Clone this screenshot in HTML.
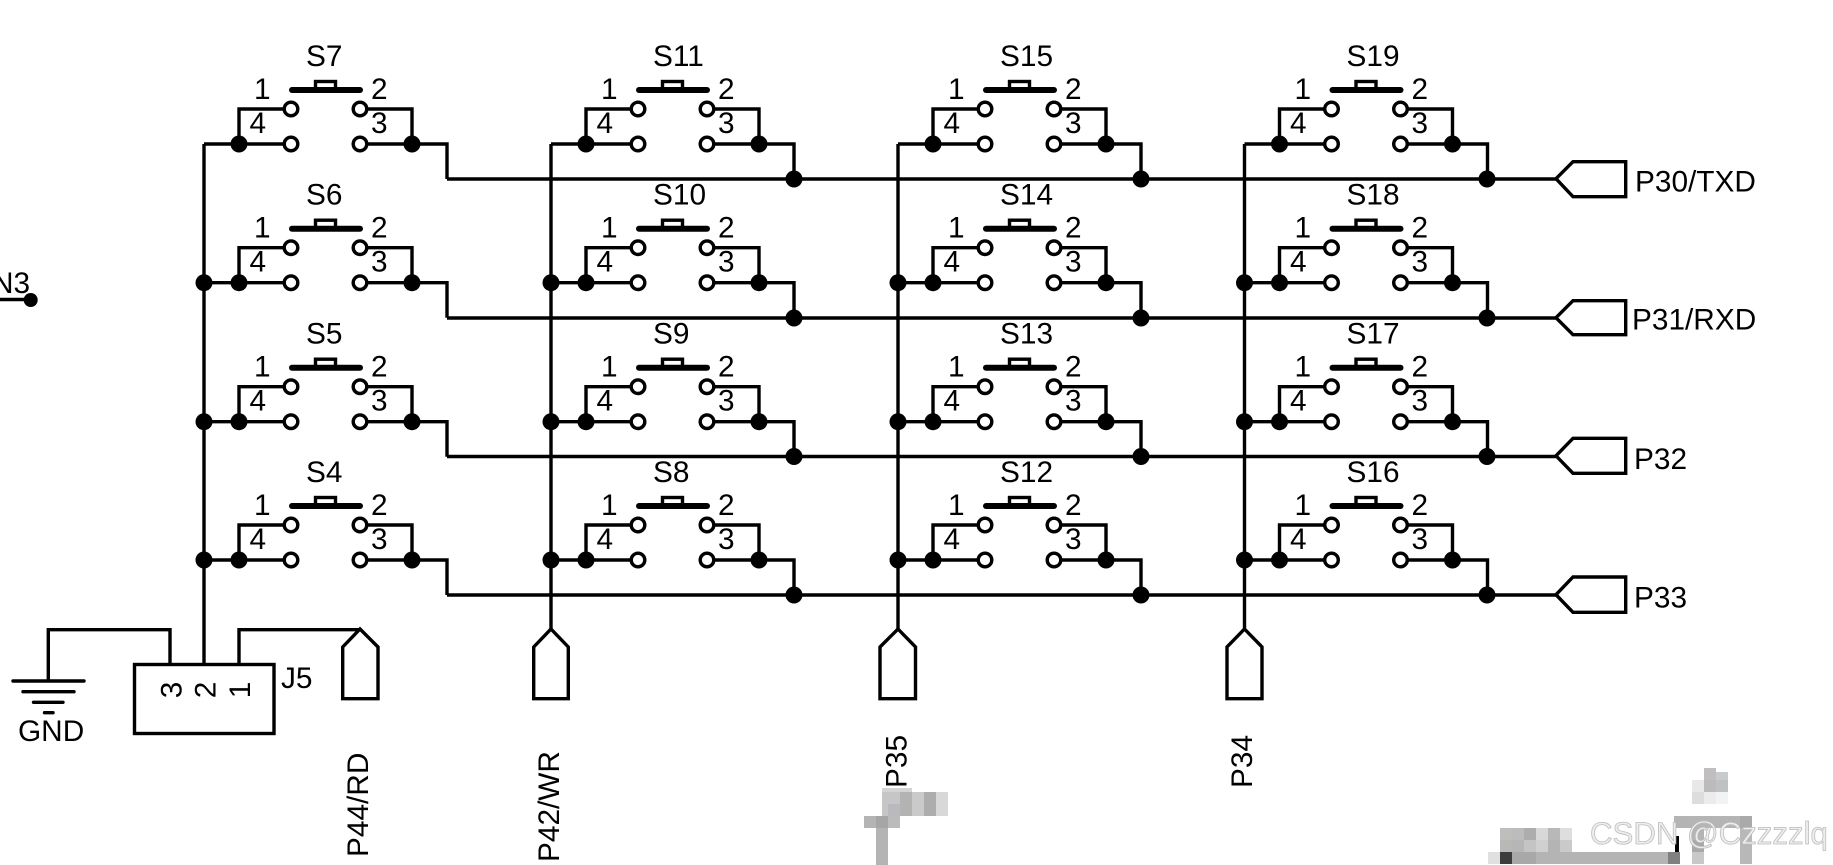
<!DOCTYPE html>
<html lang="en">
<head>
<meta charset="utf-8">
<title>Key matrix schematic</title>
<style>
html,body{margin:0;padding:0;background:#fff;width:1833px;height:865px;overflow:hidden}
svg{display:block}
text{font-family:"Liberation Sans",Arial,sans-serif;font-size:29.8px;fill:#000}
.w{fill:none;stroke:#000;stroke-width:3.4;stroke-linejoin:miter}
.p{fill:#fff;stroke:#000;stroke-width:3.4;stroke-linejoin:miter}
</style>
</head>
<body>
<svg width="1833" height="865" viewBox="0 0 1833 865" xmlns="http://www.w3.org/2000/svg">
<defs>
<g id="sw">
<path class="w" d="M204 0H284M239 0V-35H284M367 -35H412V0M367 0H447V35"/>
<circle cx="239" cy="0" r="8.5"/><circle cx="412" cy="0" r="8.5"/>
<g fill="#fff" stroke="#000" stroke-width="3.4">
<circle cx="291" cy="-35" r="6.8"/><circle cx="360" cy="-35" r="6.8"/>
<circle cx="291" cy="0" r="6.8"/><circle cx="360" cy="0" r="6.8"/>
<rect x="315.5" y="-62.5" width="20" height="8.5"/>
</g>
<path d="M292 -54H360" stroke="#000" stroke-width="6" stroke-linecap="round"/>
</g>
</defs>

<!-- nets -->
<path class="w" d="M447 179H1556M447 318H1556M447 456.5H1556M447 595H1556"/>
<path class="w" d="M204 144V664M551 144V629M898 144V629M1244.5 144V629"/>
<g>
<circle cx="204" cy="282.7" r="8.5"/><circle cx="204" cy="421.7" r="8.5"/><circle cx="204" cy="560" r="8.5"/>
<circle cx="551" cy="282.7" r="8.5"/><circle cx="551" cy="421.7" r="8.5"/><circle cx="551" cy="560" r="8.5"/>
<circle cx="898" cy="282.7" r="8.5"/><circle cx="898" cy="421.7" r="8.5"/><circle cx="898" cy="560" r="8.5"/>
<circle cx="1244.5" cy="282.7" r="8.5"/><circle cx="1244.5" cy="421.7" r="8.5"/><circle cx="1244.5" cy="560" r="8.5"/>
<circle cx="794" cy="179" r="8.5"/><circle cx="1141" cy="179" r="8.5"/><circle cx="1487" cy="179" r="8.5"/>
<circle cx="794" cy="318" r="8.5"/><circle cx="1141" cy="318" r="8.5"/><circle cx="1487" cy="318" r="8.5"/>
<circle cx="794" cy="456.5" r="8.5"/><circle cx="1141" cy="456.5" r="8.5"/><circle cx="1487" cy="456.5" r="8.5"/>
<circle cx="794" cy="595" r="8.5"/><circle cx="1141" cy="595" r="8.5"/><circle cx="1487" cy="595" r="8.5"/>
</g>

<!-- switches -->
<g transform="translate(0,144)"><use href="#sw"/><text x="306" y="-78">S7</text><text x="254 371 371 249.5" y="-45 -45 -11 -11">1234</text></g>
<g transform="translate(347,144)"><use href="#sw"/><text x="306" y="-78">S11</text><text x="254 371 371 249.5" y="-45 -45 -11 -11">1234</text></g>
<g transform="translate(694,144)"><use href="#sw"/><text x="306" y="-78">S15</text><text x="254 371 371 249.5" y="-45 -45 -11 -11">1234</text></g>
<g transform="translate(1040.5,144)"><use href="#sw"/><text x="306" y="-78">S19</text><text x="254 371 371 249.5" y="-45 -45 -11 -11">1234</text></g>

<g transform="translate(0,282.7)"><use href="#sw"/><text x="306" y="-78">S6</text><text x="254 371 371 249.5" y="-45 -45 -11 -11">1234</text></g>
<g transform="translate(347,282.7)"><use href="#sw"/><text x="306" y="-78">S10</text><text x="254 371 371 249.5" y="-45 -45 -11 -11">1234</text></g>
<g transform="translate(694,282.7)"><use href="#sw"/><text x="306" y="-78">S14</text><text x="254 371 371 249.5" y="-45 -45 -11 -11">1234</text></g>
<g transform="translate(1040.5,282.7)"><use href="#sw"/><text x="306" y="-78">S18</text><text x="254 371 371 249.5" y="-45 -45 -11 -11">1234</text></g>

<g transform="translate(0,421.7)"><use href="#sw"/><text x="306" y="-78">S5</text><text x="254 371 371 249.5" y="-45 -45 -11 -11">1234</text></g>
<g transform="translate(347,421.7)"><use href="#sw"/><text x="306" y="-78">S9</text><text x="254 371 371 249.5" y="-45 -45 -11 -11">1234</text></g>
<g transform="translate(694,421.7)"><use href="#sw"/><text x="306" y="-78">S13</text><text x="254 371 371 249.5" y="-45 -45 -11 -11">1234</text></g>
<g transform="translate(1040.5,421.7)"><use href="#sw"/><text x="306" y="-78">S17</text><text x="254 371 371 249.5" y="-45 -45 -11 -11">1234</text></g>

<g transform="translate(0,560)"><use href="#sw"/><text x="306" y="-78">S4</text><text x="254 371 371 249.5" y="-45 -45 -11 -11">1234</text></g>
<g transform="translate(347,560)"><use href="#sw"/><text x="306" y="-78">S8</text><text x="254 371 371 249.5" y="-45 -45 -11 -11">1234</text></g>
<g transform="translate(694,560)"><use href="#sw"/><text x="306" y="-78">S12</text><text x="254 371 371 249.5" y="-45 -45 -11 -11">1234</text></g>
<g transform="translate(1040.5,560)"><use href="#sw"/><text x="306" y="-78">S16</text><text x="254 371 371 249.5" y="-45 -45 -11 -11">1234</text></g>

<!-- right ports -->
<path class="p" d="M1556 178.7L1573 161.7H1625.7V196.7H1573Z"/>
<path class="p" d="M1556 317.7L1573 300.7H1625.7V334.7H1573Z"/>
<path class="p" d="M1556 455.8L1573 438.3H1625.7V473.3H1573Z"/>
<path class="p" d="M1556 594.7L1573 577H1625.7V612.3H1573Z"/>
<text x="1635" y="191.7">P30/TXD</text>
<text x="1632" y="329.5">P31/RXD</text>
<text x="1634" y="469">P32</text>
<text x="1634" y="607.7">P33</text>

<!-- bottom ports -->
<path class="p" d="M360 629L378 647V698.7H342.7V647Z"/>
<path class="p" d="M551 629L568.3 647V698.7H533.7V647Z"/>
<path class="p" d="M898 629L915.5 647V698.7H880V647Z"/>
<path class="p" d="M1244.5 629L1262 647V698.7H1227V647Z"/>
<text transform="translate(368,857) rotate(-90)">P44/RD</text>
<text transform="translate(559,862) rotate(-90)">P42/WR</text>
<text transform="translate(906.7,788) rotate(-90)">P35</text>
<text transform="translate(1252,788) rotate(-90)">P34</text>

<!-- connector J5 -->
<path class="w" d="M48.3 681V629.7H170V664M239 664V629.7H360"/>
<rect class="w" x="134.5" y="664.5" width="139.5" height="69"/>
<text transform="translate(181.5,690) rotate(-90)" text-anchor="middle">3</text>
<text transform="translate(215.5,690) rotate(-90)" text-anchor="middle">2</text>
<text transform="translate(250,690) rotate(-90)" text-anchor="middle">1</text>
<text x="281" y="688">J5</text>

<!-- GND -->
<path class="w" stroke-linecap="round" d="M13 681H84M23 691.7H74M33.5 702.3H63M44.5 712.7H53"/>
<text x="18" y="741">GND</text>

<!-- N3 -->
<path class="w" d="M-5 299.5H30"/>
<circle cx="30.7" cy="300" r="7"/>
<text x="-8" y="293">N3</text>

<!-- mosaic patches -->
<g shape-rendering="crispEdges">
<rect x="882" y="788" width="30" height="4" fill="#d4d4d4"/>
<rect x="882" y="792" width="18" height="24" fill="#c6c6c6"/>
<rect x="888" y="804" width="12" height="12" fill="#b8babd"/>
<rect x="900" y="792" width="12" height="24" fill="#b3b3b3"/>
<rect x="912" y="792" width="12" height="24" fill="#cacaca"/>
<rect x="924" y="792" width="12" height="24" fill="#adadad"/>
<rect x="936" y="792" width="12" height="24" fill="#d8d8d8"/>
<rect x="864" y="816" width="12" height="12" fill="#b4b4b4"/>
<rect x="876" y="816" width="12" height="12" fill="#a6a6a6"/>
<rect x="888" y="816" width="12" height="12" fill="#bbbbbb"/>
<rect x="876" y="828" width="12" height="37" fill="#b4b4b4"/>

<rect x="1704" y="768" width="12" height="12" fill="#c0bebe"/>
<rect x="1716" y="772" width="12" height="8" fill="#c8cacc"/>
<rect x="1692" y="780" width="12" height="12" fill="#e8e8e8"/>
<rect x="1704" y="780" width="12" height="12" fill="#bcbaba"/>
<rect x="1716" y="780" width="12" height="12" fill="#bfc2c5"/>
<rect x="1692" y="792" width="12" height="12" fill="#dedddd"/>
<rect x="1704" y="792" width="12" height="12" fill="#ececec"/>
<rect x="1716" y="792" width="12" height="12" fill="#f2f3f4"/>

<rect x="1674" y="816" width="66" height="12" fill="#b4b4b4"/>
<rect x="1740" y="816" width="12" height="12" fill="#aaaaaa"/>
<rect x="1692" y="828" width="12" height="12" fill="#b4b4b4"/>
<rect x="1692" y="840" width="12" height="12" fill="#a8a8a8"/>
<rect x="1692" y="852" width="12" height="12" fill="#c8c8c8"/>
<rect x="1740" y="828" width="12" height="36" fill="#b8b8b8"/>

<rect x="1500" y="828" width="12" height="12" fill="#c0bebc"/>
<rect x="1512" y="828" width="12" height="12" fill="#bcbcbc"/>
<rect x="1524" y="828" width="12" height="12" fill="#adadad"/>
<rect x="1536" y="828" width="12" height="12" fill="#d8d8d8"/>
<rect x="1548" y="828" width="12" height="12" fill="#b8b8b8"/>
<rect x="1560" y="828" width="12" height="12" fill="#dedede"/>
<rect x="1500" y="840" width="12" height="12" fill="#b8b8b4"/>
<rect x="1512" y="840" width="12" height="12" fill="#b4b6b8"/>
<rect x="1524" y="840" width="12" height="12" fill="#c4c4c4"/>
<rect x="1536" y="840" width="12" height="12" fill="#d0d0d0"/>
<rect x="1548" y="840" width="12" height="12" fill="#b4b4b4"/>
<rect x="1560" y="840" width="12" height="12" fill="#c8cacc"/>

<rect x="1488" y="852" width="12" height="12" fill="#e0e0e0"/>
<rect x="1500" y="852" width="12" height="12" fill="#3c3c3c"/>
<rect x="1512" y="852" width="24" height="12" fill="#a8a8a8"/>
<rect x="1536" y="852" width="132" height="12" fill="#b4b4b4"/>
<rect x="1668" y="852" width="12" height="12" fill="#808080"/>
<rect x="1675" y="836" width="4" height="16" fill="#000"/>
</g>

<!-- watermark -->
<text x="1590" y="844" style="font-size:31.2px;fill:#eeeeee;stroke:#bdbdbd;stroke-width:.8px">CSDN @Czzzzlq</text>
</svg>
</body>
</html>
